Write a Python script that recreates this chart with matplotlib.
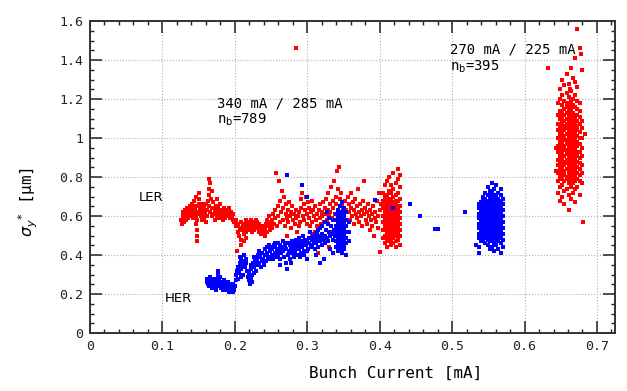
import numpy as np
import matplotlib
matplotlib.use("Agg")
import matplotlib.pyplot as plt
from matplotlib.ticker import MultipleLocator

# scattered LER points (bunch current [mA], sigma_y* [um])
ler_low = [(0.126,0.58),(0.127,0.56),(0.128,0.60),(0.128,0.62),(0.129,0.59),(0.130,0.61),(0.130,0.57),(0.131,0.63),
    (0.132,0.60),(0.132,0.58),(0.133,0.62),(0.134,0.61),(0.134,0.64),(0.135,0.59),(0.136,0.62),(0.136,0.60),
    (0.137,0.63),(0.138,0.61),(0.138,0.65),(0.139,0.62),(0.140,0.60),(0.140,0.64),(0.141,0.66),(0.142,0.62),
    (0.142,0.59),(0.143,0.64),(0.144,0.61),(0.144,0.68),(0.145,0.63),(0.146,0.60),(0.146,0.70),(0.147,0.65),
    (0.147,0.56),(0.148,0.53),(0.148,0.50),(0.148,0.47),(0.148,0.58),(0.149,0.62),(0.150,0.72),(0.150,0.66),
    (0.151,0.69),(0.151,0.61),(0.152,0.64),(0.153,0.60),(0.154,0.63),(0.155,0.58),(0.155,0.66),(0.156,0.61),
    (0.157,0.64),(0.158,0.59),(0.159,0.62),(0.160,0.66),(0.160,0.57),(0.161,0.63),(0.162,0.60),(0.163,0.68),
    (0.164,0.74),(0.164,0.79),(0.165,0.71),(0.165,0.65),(0.166,0.77),(0.166,0.62),(0.167,0.69),(0.168,0.73),
    (0.168,0.60),(0.169,0.64),(0.170,0.67),(0.171,0.61),(0.172,0.63),(0.173,0.58),(0.174,0.65),(0.175,0.69),
    (0.175,0.62),(0.176,0.60),(0.177,0.64),(0.178,0.59),(0.179,0.62),(0.180,0.66),(0.181,0.61),(0.182,0.63),
    (0.183,0.58),(0.184,0.60),(0.185,0.64),(0.186,0.62),(0.187,0.59),(0.188,0.61),(0.189,0.63),(0.190,0.60),
    (0.191,0.62),(0.192,0.64),(0.193,0.61),(0.194,0.59),(0.195,0.62),(0.196,0.60),(0.197,0.58),(0.198,0.61),
    (0.199,0.57),
    (0.201,0.55),(0.202,0.58),(0.203,0.42),(0.204,0.52),(0.205,0.56),(0.206,0.50),(0.207,0.54),(0.208,0.57),
    (0.209,0.48),(0.210,0.53),(0.211,0.55),(0.212,0.51),(0.213,0.56),(0.214,0.54),(0.215,0.58),(0.216,0.52),
    (0.217,0.55),(0.218,0.57),(0.219,0.53),(0.220,0.56),(0.221,0.54),(0.222,0.58),(0.223,0.55),(0.224,0.52),
    (0.225,0.57),(0.226,0.55),(0.227,0.53),(0.228,0.56),(0.229,0.58),(0.230,0.54),(0.231,0.57),(0.232,0.55),
    (0.233,0.52),(0.234,0.56),(0.235,0.54),(0.236,0.51),(0.237,0.53),(0.238,0.55),(0.239,0.52),(0.240,0.54),
    (0.241,0.50),(0.242,0.53),(0.243,0.56),(0.244,0.52),(0.245,0.58),(0.246,0.55),(0.247,0.60),(0.248,0.53),
    (0.249,0.57),(0.250,0.55),(0.212,0.47),(0.215,0.49),(0.208,0.45)]

ler_mid = [(0.251,0.58),(0.252,0.54),(0.253,0.61),(0.254,0.56),(0.255,0.63),(0.256,0.59),(0.257,0.82),(0.258,0.55),
    (0.259,0.65),(0.260,0.60),(0.261,0.78),(0.262,0.57),(0.263,0.68),(0.264,0.62),(0.265,0.73),(0.266,0.58),
    (0.267,0.64),(0.268,0.70),(0.269,0.55),(0.270,0.61),(0.271,0.66),(0.272,0.59),(0.273,0.63),(0.274,0.57),
    (0.275,0.67),(0.276,0.60),(0.277,0.54),(0.278,0.62),(0.279,0.65),(0.280,0.58),(0.281,0.61),(0.282,0.47),
    (0.283,0.56),(0.284,0.63),(0.285,0.59),(0.286,0.52),(0.287,0.60),(0.288,0.55),(0.289,0.62),(0.290,0.57),
    (0.291,0.64),(0.292,0.69),(0.293,0.72),(0.294,0.60),(0.295,0.66),(0.296,0.58),(0.297,0.63),(0.298,0.70),
    (0.299,0.56),(0.300,0.61),(0.301,0.67),(0.302,0.59),(0.303,0.64),(0.304,0.55),(0.305,0.62),(0.306,0.68),
    (0.307,0.57),(0.308,0.63),(0.309,0.60),(0.310,0.52),(0.311,0.65),(0.312,0.58),(0.313,0.61),(0.314,0.55),
    (0.315,0.41),(0.316,0.63),(0.317,0.59),(0.318,0.66),(0.319,0.56),(0.320,0.62),(0.321,0.60),(0.322,0.67),
    (0.323,0.57),(0.324,0.64),(0.325,0.61),(0.326,0.69),(0.327,0.58),(0.328,0.63),(0.329,0.72),(0.330,0.60),
    (0.331,0.66),(0.332,0.62),(0.333,0.75),(0.334,0.59),(0.335,0.68),(0.336,0.64),(0.337,0.78),(0.338,0.61),
    (0.339,0.70),(0.340,0.66),(0.341,0.83),(0.342,0.63),(0.343,0.74),(0.344,0.85),(0.345,0.69),(0.346,0.62),
    (0.347,0.72),(0.348,0.66),(0.349,0.60),(0.350,0.64),(0.352,0.68),(0.354,0.63),
    (0.272,0.50),(0.288,0.48),(0.298,0.46),(0.306,0.51),(0.318,0.49),(0.326,0.47),(0.330,0.44),(0.335,0.52),
    (0.285,1.46),
    (0.356,0.70),(0.357,0.62),(0.358,0.66),(0.359,0.58),(0.360,0.64),(0.361,0.72),(0.362,0.60),(0.363,0.67),
    (0.364,0.63),(0.365,0.56),(0.366,0.69),(0.367,0.61),(0.368,0.65),(0.369,0.59),(0.370,0.74),(0.371,0.62),
    (0.372,0.57),(0.373,0.66),(0.374,0.60),(0.375,0.63),(0.376,0.55),(0.377,0.68),(0.378,0.61),(0.379,0.78),
    (0.380,0.64),(0.381,0.58),(0.382,0.62),(0.383,0.56),(0.384,0.66),(0.385,0.60),(0.386,0.53),(0.387,0.63),
    (0.388,0.58),(0.389,0.61),(0.390,0.55),(0.391,0.65),(0.392,0.50),(0.393,0.59),(0.394,0.62),(0.395,0.57),
    (0.396,0.68),(0.397,0.54),(0.398,0.60),(0.399,0.72),(0.400,0.63),(0.401,0.415),(0.402,0.66),
    (0.632,1.36),(0.643,0.95),(0.644,0.83),(0.681,0.57),(0.683,1.02),(0.678,1.43),(0.663,1.25)]

# dense LER groups: (current, list of sigma values)
ler_blob_a = [(0.404,[0.49,0.53,0.57,0.60,0.64,0.68,0.72]),
    (0.407,[0.46,0.50,0.53,0.55,0.58,0.61,0.63,0.66,0.70,0.76]),
    (0.410,[0.44,0.48,0.51,0.53,0.55,0.57,0.59,0.61,0.63,0.65,0.68,0.71,0.78]),
    (0.413,[0.47,0.49,0.51,0.54,0.56,0.58,0.60,0.62,0.64,0.67,0.69,0.73,0.80]),
    (0.416,[0.45,0.48,0.50,0.52,0.54,0.56,0.58,0.60,0.62,0.64,0.66,0.69,0.72,0.76]),
    (0.419,[0.46,0.49,0.51,0.53,0.55,0.57,0.59,0.61,0.63,0.65,0.67,0.70,0.74,0.82]),
    (0.422,[0.44,0.47,0.50,0.52,0.54,0.56,0.58,0.60,0.62,0.64,0.66,0.68,0.71,0.77]),
    (0.425,[0.48,0.51,0.53,0.55,0.57,0.59,0.61,0.63,0.65,0.68,0.72,0.79,0.84]),
    (0.428,[0.45,0.50,0.53,0.56,0.59,0.62,0.65,0.69,0.75,0.81])]

ler_blob_b = [(0.646,[0.72,0.78,0.82,0.86,0.89,0.93,0.96,1.00,1.04,1.07,1.12,1.18]),
    (0.649,[0.68,0.75,0.79,0.81,0.84,0.87,0.90,0.92,0.95,0.98,1.01,1.03,1.06,1.10,1.14,1.20,1.25]),
    (0.652,[0.70,0.76,0.80,0.82,0.85,0.88,0.90,0.93,0.95,0.97,1.00,1.02,1.05,1.08,1.11,1.13,1.17,1.22,1.30]),
    (0.655,[0.66,0.73,0.78,0.81,0.83,0.86,0.88,0.91,0.94,0.96,0.99,1.01,1.04,1.06,1.09,1.12,1.15,1.19,1.27]),
    (0.658,[0.74,0.79,0.80,0.84,0.87,0.89,0.92,0.94,0.97,0.99,1.02,1.05,1.07,1.10,1.13,1.16,1.18,1.23,1.33]),
    (0.661,[0.63,0.71,0.77,0.81,0.83,0.85,0.88,0.90,0.93,0.96,0.98,1.00,1.03,1.06,1.08,1.11,1.14,1.17,1.21,1.28]),
    (0.664,[0.69,0.75,0.79,0.82,0.84,0.87,0.89,0.91,0.94,0.97,0.99,1.01,1.04,1.07,1.09,1.12,1.15,1.19,1.24,1.36]),
    (0.667,[0.72,0.77,0.80,0.83,0.86,0.88,0.90,0.92,0.95,0.98,1.00,1.03,1.05,1.08,1.10,1.13,1.17,1.20,1.31]),
    (0.670,[0.67,0.74,0.78,0.81,0.84,0.87,0.89,0.92,0.94,0.96,0.99,1.02,1.04,1.07,1.10,1.12,1.16,1.22,1.29,1.41]),
    (0.673,[0.75,0.79,0.82,0.85,0.88,0.91,0.93,0.96,0.98,1.01,1.04,1.06,1.09,1.12,1.15,1.19,1.26,1.56]),
    (0.676,[0.71,0.78,0.81,0.84,0.87,0.90,0.93,0.97,1.00,1.03,1.07,1.11,1.14,1.18,1.46]),
    (0.679,[0.77,0.82,0.86,0.91,0.95,1.00,1.05,1.09,1.35])]

# scattered HER points
her_low = [(0.161,0.26),(0.162,0.28),(0.163,0.25),(0.164,0.27),(0.165,0.24),(0.166,0.29),(0.167,0.26),(0.168,0.23),
    (0.169,0.27),(0.170,0.25),(0.171,0.28),(0.172,0.24),(0.173,0.26),(0.174,0.22),(0.175,0.25),(0.176,0.28),
    (0.177,0.30),(0.177,0.32),(0.178,0.27),(0.178,0.24),(0.179,0.29),(0.180,0.26),(0.181,0.23),(0.182,0.25),
    (0.183,0.22),(0.184,0.24),(0.185,0.27),(0.186,0.23),(0.187,0.25),(0.188,0.22),(0.189,0.24),(0.190,0.26),
    (0.191,0.23),(0.192,0.21),(0.193,0.25),(0.194,0.22),(0.195,0.24),(0.196,0.23),(0.197,0.21),(0.198,0.25),
    (0.199,0.22),(0.200,0.24),
    (0.201,0.27),(0.202,0.30),(0.203,0.32),(0.204,0.28),(0.205,0.34),(0.206,0.31),(0.207,0.36),(0.208,0.33),
    (0.209,0.38),(0.210,0.35),(0.211,0.30),(0.212,0.37),(0.213,0.40),(0.214,0.34),(0.215,0.38),(0.216,0.36),
    (0.217,0.32),(0.218,0.29),(0.219,0.27),(0.220,0.31),(0.221,0.25),(0.222,0.28),(0.223,0.33),(0.224,0.30),
    (0.225,0.36),(0.226,0.34),(0.227,0.39),(0.228,0.37),(0.229,0.32),(0.230,0.35),(0.231,0.38),(0.232,0.40),
    (0.233,0.36),(0.234,0.42),(0.235,0.39),(0.236,0.34),(0.237,0.37),(0.238,0.41),(0.239,0.38),(0.240,0.35),
    (0.241,0.43),(0.242,0.40),(0.243,0.37),(0.244,0.44),(0.245,0.41),(0.246,0.39),(0.247,0.45),(0.248,0.42),
    (0.249,0.38),(0.250,0.44),(0.207,0.39),(0.208,0.29),(0.222,0.35),(0.224,0.26),(0.226,0.31)]

her_mid = [(0.251,0.40),(0.252,0.43),(0.253,0.38),(0.254,0.45),(0.255,0.41),(0.256,0.44),(0.257,0.39),(0.258,0.42),
    (0.259,0.46),(0.260,0.40),(0.261,0.43),(0.262,0.38),(0.263,0.45),(0.264,0.41),(0.265,0.44),(0.266,0.47),
    (0.267,0.42),(0.268,0.39),(0.269,0.45),(0.270,0.36),(0.271,0.43),(0.272,0.33),(0.273,0.40),(0.274,0.46),
    (0.275,0.42),(0.276,0.38),(0.277,0.44),(0.278,0.41),(0.279,0.47),(0.280,0.43),(0.281,0.39),(0.282,0.45),
    (0.283,0.42),(0.284,0.48),(0.285,0.44),(0.286,0.40),(0.287,0.46),(0.288,0.43),(0.289,0.49),(0.290,0.45),
    (0.291,0.41),(0.292,0.47),(0.293,0.44),(0.294,0.50),(0.295,0.46),(0.296,0.42),(0.297,0.48),(0.298,0.45),
    (0.299,0.38),(0.300,0.47),(0.301,0.43),(0.302,0.49),(0.303,0.46),(0.304,0.52),(0.305,0.44),(0.306,0.48),
    (0.307,0.45),(0.308,0.50),(0.309,0.47),(0.310,0.43),(0.311,0.49),(0.312,0.46),(0.313,0.52),(0.314,0.48),
    (0.315,0.44),(0.316,0.50),(0.317,0.47),(0.318,0.54),(0.319,0.49),(0.320,0.45),(0.321,0.51),(0.322,0.48),
    (0.323,0.38),(0.324,0.50),(0.325,0.46),(0.326,0.53),(0.327,0.49),(0.328,0.56),(0.329,0.47),(0.330,0.52),
    (0.331,0.50),(0.332,0.43),(0.333,0.55),(0.334,0.51),(0.335,0.48),(0.336,0.58),(0.337,0.53),(0.338,0.50),
    (0.262,0.35),(0.278,0.36),(0.290,0.39),(0.312,0.40),(0.318,0.36),(0.335,0.41),
    (0.255,0.46),(0.258,0.39),(0.263,0.41),(0.268,0.44),(0.272,0.46),(0.276,0.45),(0.282,0.40),(0.285,0.47),
    (0.291,0.44),(0.295,0.40),(0.300,0.42),(0.305,0.49),(0.310,0.51),(0.315,0.53),(0.320,0.55),(0.325,0.57),
    (0.330,0.59),(0.272,0.81),(0.293,0.76),(0.300,0.70),(0.327,0.62),
    (0.394,0.685),(0.419,0.64),(0.442,0.66),(0.456,0.60),(0.477,0.535),(0.480,0.535),(0.518,0.62),
    (0.533,0.45),(0.537,0.41)]

her_blob_a = [(0.339,[0.44,0.47,0.50,0.52,0.55,0.58,0.61]),
    (0.342,[0.42,0.46,0.48,0.50,0.52,0.54,0.56,0.58,0.60,0.63]),
    (0.345,[0.43,0.45,0.47,0.49,0.51,0.53,0.55,0.57,0.59,0.61,0.65]),
    (0.348,[0.41,0.44,0.46,0.48,0.50,0.52,0.54,0.56,0.58,0.60,0.62,0.67]),
    (0.351,[0.43,0.45,0.47,0.49,0.51,0.53,0.55,0.57,0.59,0.61,0.64]),
    (0.354,[0.40,0.46,0.49,0.52,0.55,0.58,0.62]),
    (0.357,[0.47,0.52,0.57])]

her_blob_b = [(0.537,[0.44,0.49,0.51,0.54,0.56,0.59,0.61,0.64,0.66]),
    (0.540,[0.47,0.50,0.52,0.53,0.55,0.57,0.58,0.60,0.62,0.63,0.65,0.67]),
    (0.543,[0.48,0.49,0.51,0.52,0.54,0.56,0.57,0.59,0.60,0.62,0.64,0.66,0.68,0.70]),
    (0.546,[0.46,0.49,0.50,0.52,0.53,0.55,0.56,0.58,0.59,0.61,0.63,0.64,0.66,0.67,0.69,0.72]),
    (0.549,[0.45,0.48,0.50,0.51,0.53,0.54,0.56,0.57,0.59,0.60,0.62,0.63,0.65,0.66,0.68,0.71,0.75]),
    (0.552,[0.43,0.47,0.49,0.50,0.52,0.53,0.55,0.56,0.58,0.59,0.61,0.62,0.64,0.65,0.67,0.68,0.70,0.73]),
    (0.555,[0.44,0.48,0.49,0.51,0.52,0.54,0.55,0.57,0.58,0.60,0.61,0.63,0.64,0.66,0.67,0.69,0.72,0.77]),
    (0.558,[0.42,0.46,0.49,0.50,0.52,0.53,0.55,0.56,0.58,0.59,0.61,0.62,0.64,0.65,0.67,0.68,0.71,0.74]),
    (0.561,[0.45,0.48,0.50,0.51,0.53,0.54,0.56,0.57,0.59,0.60,0.62,0.63,0.65,0.66,0.68,0.70,0.76]),
    (0.564,[0.43,0.47,0.49,0.51,0.52,0.54,0.55,0.57,0.58,0.60,0.61,0.63,0.64,0.66,0.67,0.69,0.72]),
    (0.567,[0.41,0.46,0.49,0.50,0.52,0.54,0.56,0.57,0.59,0.61,0.62,0.64,0.66,0.68,0.71,0.74]),
    (0.570,[0.44,0.48,0.51,0.54,0.57,0.60,0.63,0.66,0.69])]

xtick_labels = ['0', '0.1', '0.2', '0.3', '0.4', '0.5', '0.6', '0.7']
ytick_labels = ['0', '0.2', '0.4', '0.6', '0.8', '1', '1.2', '1.4', '1.6']


def collect(points, blobs):
	xs = [p[0] for p in points]
	ys = [p[1] for p in points]
	for blob in blobs:
		for x, col in blob:
			xs += [x] * len(col)
			ys += col
	return np.array(xs), np.array(ys)


ler_x, ler_y = collect(ler_low + ler_mid, [ler_blob_a, ler_blob_b])
her_x, her_y = collect(her_low + her_mid, [her_blob_a, her_blob_b])

mono = 'DejaVu Sans Mono'
fig = plt.figure(figsize=(6.27, 3.91), dpi=100)
ax = fig.add_axes([0.1435, 0.148, 0.8375, 0.798])

ax.plot(ler_x, ler_y, 's', ms=2.2, mew=0, color='#ff0000')
ax.plot(her_x, her_y, 's', ms=2.2, mew=0, color='#0000ff')

ax.set_xlim(0, 0.725)
ax.set_ylim(0, 1.6)
ax.set_xticks(np.arange(0, 0.71, 0.1))
ax.set_xticklabels(xtick_labels, family=mono, fontsize=9.5)
ax.set_yticks(np.arange(0, 1.61, 0.2))
ax.set_yticklabels(ytick_labels, family=mono, fontsize=9.5)
ax.xaxis.set_minor_locator(MultipleLocator(0.02))
ax.yaxis.set_minor_locator(MultipleLocator(0.05))
ax.tick_params(which='both', direction='in', top=True, right=True, colors='#222222')
ax.tick_params(which='major', length=8.5, width=1.1, pad=5)
ax.tick_params(which='minor', length=3.2, width=1.0)
for s in ax.spines.values():
	s.set_linewidth(1.4)
	s.set_color('#333333')
ax.grid(True, which='major', linestyle=':', color='#b0b0b0', linewidth=0.8)
ax.set_axisbelow(True)

ax.set_xlabel('Bunch Current [mA]', family=mono, fontsize=11.5)
ax.xaxis.set_label_coords(0.583, -0.105)
ax.set_ylabel(r'$\sigma_y{}^{*}$ [μm]', family=mono, fontsize=11.5, va='center', ha='center')
ax.yaxis.set_label_coords(-0.118, 0.42)

ax.text(0.175, 1.215, '340 mA / 285 mA\nn$_\\mathrm{b}$=789', family=mono, fontsize=10, va='top', linespacing=1.15)
ax.text(0.497, 1.49, '270 mA / 225 mA\nn$_\\mathrm{b}$=395', family=mono, fontsize=10, va='top', linespacing=1.15)
ax.text(0.068, 0.695, 'LER', fontsize=9.5, va='center')
ax.text(0.103, 0.18, 'HER', fontsize=9.5, va='center')

fig.savefig('out.png', dpi=100)
